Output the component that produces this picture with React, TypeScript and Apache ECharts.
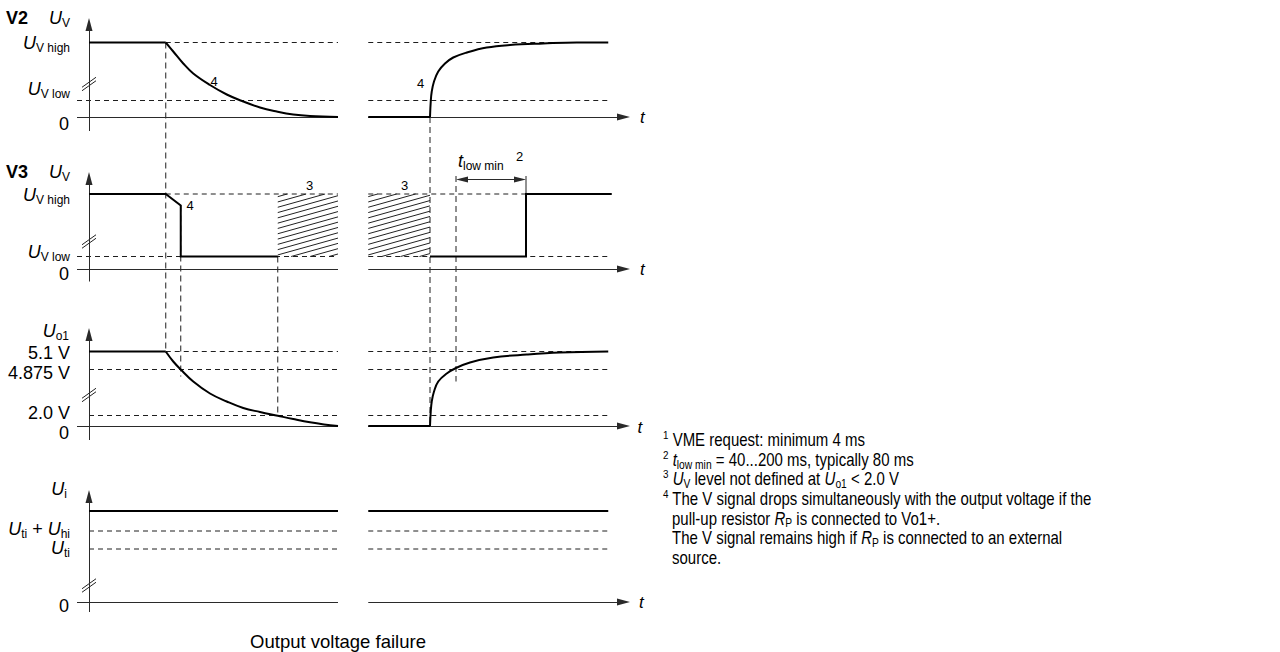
import React, { useEffect, useRef } from "react";
import * as echarts from "echarts";

type Pt = [number, number];

const FONT = '"Liberation Sans", Arial, Helvetica, sans-serif';

// ---------- time instants (diagram time units) ----------
const T_AXIS_START = -4.8;
const T_LEFT_END = 99.6;
const T_RIGHT_START = 111.7;
const T_RIGHT_END = 207.7;
const T_ARROW = 216.4;
const T_FAIL = 30.7;
const T_V3_DROP = 36.7;
const T_UO1_2V = 75.5;
const T_RECOVER = 136.4;
const T_UO1_4875 = 146.8;
const T_V3_RISE = 174.8;

// ---------- levels (diagram units above each panel's zero line) ----------
const V2_LEVELS = [14.9, 3.3]; // U_V high, U_V low
const V3_LEVELS = [15.0, 2.5]; // U_V high, U_V low
const UO1_LEVELS = [14.9, 11.3, 2.1]; // 5.1 V, 4.875 V, 2.0 V
const UI_LEVELS = [18.2, 14.2, 10.6]; // U_i, U_ti + U_hi, U_ti

// ---------- signals [t, level] ----------
const v2Flat: Pt[] = [[0, 14.9], [30.7, 14.9]];
const v2Fall: Pt[] = [[30.7, 14.9], [33.7, 13.1], [37.7, 10.7], [41.7, 8.7], [48.4, 6.4], [55.1, 4.5], [61.7, 3.1], [68.4, 1.9], [75.1, 1.1], [81.7, 0.5], [88.4, 0.2], [99.6, 0]];
const v2Low: Pt[] = [[111.7, 0], [136.4, 0]];
const v2Rise: Pt[] = [[136.4, 0], [136.7, 3.1], [137.1, 5.1], [138.0, 7.1], [139.7, 9.1], [142.4, 10.7], [145.7, 11.9], [151.1, 12.9], [159.1, 13.9], [168.4, 14.4], [181.7, 14.7], [195.1, 14.9], [207.7, 14.9]];

const v3Left: Pt[] = [[0, 15], [30.7, 15], [36.7, 12.7], [36.7, 2.5], [75.5, 2.5]];
const v3Right: Pt[] = [[136.4, 2.5], [174.8, 2.5], [174.8, 15], [209.1, 15]];

const uo1Flat: Pt[] = [[0, 14.9], [30.7, 14.9]];
const uo1Fall: Pt[] = [[30.7, 14.9], [33.7, 12.9], [36.7, 11.3], [41.7, 8.9], [48.4, 6.5], [55.1, 4.9], [61.7, 3.6], [68.4, 2.8], [75.5, 2.05], [81.7, 1.4], [88.4, 0.75], [94.0, 0.32], [99.6, 0]];
const uo1Low: Pt[] = [[111.7, 0], [136.4, 0]];
const uo1Rise: Pt[] = [[136.4, 0], [136.7, 2.9], [137.1, 4.9], [138.0, 6.9], [139.7, 8.9], [143.1, 10.5], [146.8, 11.6], [152.4, 12.7], [161.7, 13.7], [175.1, 14.3], [188.4, 14.7], [207.7, 14.9]];

const uiLeft: Pt[] = [[0, 18.2], [99.6, 18.2]];
const uiRight: Pt[] = [[111.7, 18.2], [207.7, 18.2]];

// undefined-level hatched zones of V3 [tStart, tEnd]
const hatchZones: Pt[] = [[75.5, 99.6], [111.7, 136.4]];

// ---------- layout (panel zero lines on the shared vertical scale) ----------
const BASE_V2 = 99;
const BASE_V3 = 68.6;
const BASE_UO1 = 37.2;
const BASE_UI = 2;
const Y_MAX = 118.8;

function App() {
  const ref = useRef<HTMLDivElement>(null);
  useEffect(() => {
    const chart = echarts.init(ref.current!, undefined, { renderer: "svg" });
    chart.setOption(buildOption() as any);
    return () => chart.dispose();
  }, []);
  return (
    <div
      ref={ref}
      style={{ position: "fixed", left: 0, top: 0, width: 1280, height: 652, background: "#fff" }}
    />
  );
}

function buildOption() {
  const series: any[] = [];
  const shift = (pts: Pt[], base: number) => pts.map(([t, v]) => [t, base + v]);

  const signal = (pts: Pt[], base: number, smooth = false) =>
    series.push({
      type: "line",
      data: shift(pts, base),
      symbol: "none",
      showSymbol: false,
      smooth: smooth ? 0.4 : false,
      lineStyle: { color: "#000", width: 2, cap: "butt", join: "miter" },
      silent: true,
      z: 6,
    });

  const dash = (a: Pt, b: Pt, dashPattern = [5, 4]) =>
    series.push({
      type: "line",
      data: [a, b],
      symbol: "none",
      lineStyle: { color: "#1e1e1e", width: 1, type: dashPattern },
      silent: true,
      z: 3,
    });

  const thin = (a: Pt, b: Pt) =>
    series.push({
      type: "line",
      data: [a, b],
      symbol: "none",
      lineStyle: { color: "#222", width: 1 },
      silent: true,
      z: 4,
    });

  // signals
  signal(v2Flat, BASE_V2);
  signal(v2Fall, BASE_V2, true);
  signal(v2Low, BASE_V2);
  signal(v2Rise, BASE_V2, true);
  signal(v3Left, BASE_V3);
  signal(v3Right, BASE_V3);
  signal(uo1Flat, BASE_UO1);
  signal(uo1Fall, BASE_UO1, true);
  signal(uo1Low, BASE_UO1);
  signal(uo1Rise, BASE_UO1, true);
  signal(uiLeft, BASE_UI);
  signal(uiRight, BASE_UI);

  // horizontal dashed reference levels
  const both = (base: number, level: number, tLeftStart: number) => {
    dash([tLeftStart, base + level], [T_LEFT_END, base + level]);
    dash([T_RIGHT_START, base + level], [T_RIGHT_END, base + level]);
  };
  both(BASE_V2, V2_LEVELS[0], T_FAIL);
  both(BASE_V2, V2_LEVELS[1], T_AXIS_START);
  both(BASE_V3, V3_LEVELS[0], T_FAIL);
  both(BASE_V3, V3_LEVELS[1], T_AXIS_START);
  both(BASE_UO1, UO1_LEVELS[0], T_FAIL);
  both(BASE_UO1, UO1_LEVELS[1], 0);
  both(BASE_UO1, UO1_LEVELS[2], 0);
  both(BASE_UI, UI_LEVELS[1], 0);
  both(BASE_UI, UI_LEVELS[2], 0);

  // vertical dashed connectors between panels
  const vd = [6, 4];
  dash([T_FAIL, BASE_V2 + V2_LEVELS[0]], [T_FAIL, BASE_UO1 + UO1_LEVELS[0]], vd);
  dash([T_V3_DROP, BASE_V3 + 12.7], [T_V3_DROP, BASE_UO1 + 9.9], vd);
  dash([T_UO1_2V, BASE_V3 + V3_LEVELS[1]], [T_UO1_2V, BASE_UO1 + UO1_LEVELS[2]], vd);
  dash([T_RECOVER, BASE_V2], [T_RECOVER, BASE_UO1], vd);
  dash([T_UO1_4875, BASE_V3 + 18.6], [T_UO1_4875, BASE_UO1 + 8.9], vd);
  // t_low min end tick
  thin([T_V3_RISE, BASE_V3 + 18.6], [T_V3_RISE, BASE_V3 + 15]);

  // axis break marks on the y axes
  const breaks: Pt[] = [[BASE_V2, 6.6], [BASE_V3, 5.5], [BASE_UO1, 6.2], [BASE_UI, 3.3]];
  breaks.forEach(([base, c]) => {
    [-0.35, 0.35].forEach((o) => thin([-2.8, base + c + o - 1.0], [2.8, base + c + o + 1.0]));
  });

  // hatched zones (custom series)
  const HATCH_SLOPE = 0.28;
  const HATCH_GAP = 5.3;
  series.push({
    type: "custom",
    silent: true,
    z: 2,
    data: hatchZones.map(([a, b]) => [a, b, BASE_V3 + V3_LEVELS[1], BASE_V3 + V3_LEVELS[0]]),
    encode: { x: [0, 1], y: [2, 3] },
    renderItem: (_p: any, api: any) => {
      const tl = api.coord([api.value(0), api.value(3)]);
      const br = api.coord([api.value(1), api.value(2)]);
      const left = tl[0], top = tl[1], right = br[0], bottom = br[1];
      const w = right - left;
      const children: any[] = [];
      for (let c = top + HATCH_GAP * 0.5; c < bottom + HATCH_SLOPE * w; c += HATCH_GAP) {
        const xa = Math.max(left, left + (c - bottom) / HATCH_SLOPE);
        const xb = Math.min(right, left + (c - top) / HATCH_SLOPE);
        if (xb - xa > 0.5) {
          children.push({
            type: "line",
            shape: { x1: xa, y1: c - HATCH_SLOPE * (xa - left), x2: xb, y2: c - HATCH_SLOPE * (xb - left) },
            style: { stroke: "#222", lineWidth: 1 },
          });
        }
      }
      return { type: "group", children };
    },
  });

  // axes with arrows (markLine)
  const ARROW = { symbol: "triangle", symbolSize: [7, 13] };
  const NONE = { symbol: "none" };
  const AX_T = 2.6; // half arrow length in t units
  const AX_Y = 1.3; // half arrow length in level units
  const axisLines: any[] = [];
  const panels: [number, number, number][] = [
    [BASE_V2, -2.8, 19.8],
    [BASE_V3, -2.5, 19.4],
    [BASE_UO1, -2.8, 19.6],
    [BASE_UI, -2.0, 22.4],
  ];
  panels.forEach(([base, yb, yt]) => {
    axisLines.push([{ coord: [0, base + yb], ...NONE }, { coord: [0, base + yt - AX_Y], ...ARROW }]);
    axisLines.push([{ coord: [T_AXIS_START, base], ...NONE }, { coord: [T_LEFT_END, base], ...NONE }]);
    axisLines.push([{ coord: [T_RIGHT_START, base], ...NONE }, { coord: [T_ARROW - AX_T, base], ...ARROW }]);
  });
  // t_low min double arrow
  axisLines.push([
    { coord: [T_UO1_4875 + 2.4, BASE_V3 + 17.9], symbol: "triangle", symbolSize: [6, 12] },
    { coord: [T_V3_RISE - 2.4, BASE_V3 + 17.9], symbol: "triangle", symbolSize: [6, 12] },
  ]);
  series.push({
    type: "line",
    data: [],
    silent: true,
    markLine: {
      silent: true,
      symbol: ["none", "none"],
      label: { show: false },
      emphasis: { disabled: true },
      lineStyle: { color: "#2a2a2a", width: 1, type: "solid" },
      itemStyle: { color: "#000" },
      data: axisLines,
    },
  });

  // ---------- texts ----------
  const RICH: any = {
    u: { fontSize: 18, fontStyle: "italic", fontFamily: FONT, lineHeight: 22, fill: "#000" },
    s: { fontSize: 12, fontFamily: FONT, lineHeight: 14, verticalAlign: "bottom", fill: "#000" },
    n: { fontSize: 18, fontFamily: FONT, lineHeight: 22, fill: "#000" },
    b: { fontSize: 18, fontWeight: "bold", fontFamily: FONT, lineHeight: 22, fill: "#000" },
    t: { fontSize: 17, fontStyle: "italic", fontFamily: FONT, lineHeight: 22, fill: "#000" },
    a: { fontSize: 13, fontFamily: FONT, lineHeight: 16, fill: "#000" },
    f: { fontSize: 18.5, fontFamily: FONT, lineHeight: 22, fill: "#000" },
  };
  const NOTE: any = {
    n: { fontSize: 17.5, fontFamily: FONT, lineHeight: 22, fill: "#000" },
    i: { fontSize: 17.5, fontStyle: "italic", fontFamily: FONT, lineHeight: 22, fill: "#000" },
    s: { fontSize: 12, fontFamily: FONT, lineHeight: 13, verticalAlign: "bottom", fill: "#000" },
    p: { fontSize: 11.5, fontFamily: FONT, lineHeight: 11, verticalAlign: "top", fill: "#000" },
  };
  const txt = (x: number, y: number, text: string, align = "left", rich = RICH, scaleX = 1) => ({
    type: "text",
    x,
    y,
    scaleX,
    silent: true,
    style: { text, rich, align, verticalAlign: "middle", fontFamily: FONT, fontSize: 16, fill: "#000" },
  });
  const note = (x: number, y: number, text: string) => txt(x, y, text, "left", NOTE, 0.857);

  const graphics: any[] = [
    // V2
    txt(6, 18, "{b|V2}"),
    txt(70, 18, "{u|U}{s|V}", "right"),
    txt(70, 43, "{u|U}{s|V high}", "right"),
    txt(70, 88.5, "{u|U}{s|V low}", "right"),
    txt(69, 124, "{n|0}", "right"),
    // V3
    txt(6, 172, "{b|V3}"),
    txt(70, 172, "{u|U}{s|V}", "right"),
    txt(70, 194.5, "{u|U}{s|V high}", "right"),
    txt(70, 252, "{u|U}{s|V low}", "right"),
    txt(69, 274, "{n|0}", "right"),
    // Uo1
    txt(69, 330.5, "{u|U}{s|o1}", "right"),
    txt(70, 353, "{n|5.1 V}", "right"),
    txt(70, 372.5, "{n|4.875 V}", "right"),
    txt(70, 412.5, "{n|2.0 V}", "right"),
    txt(69, 433, "{n|0}", "right"),
    // Ui
    txt(67, 488.5, "{u|U}{s|i}", "right"),
    txt(70, 529, "{u|U}{s|ti}{n| + }{u|U}{s|hi}", "right"),
    txt(70, 547.5, "{u|U}{s|ti}", "right"),
    txt(69, 606, "{n|0}", "right"),
    // t axis labels
    txt(640, 117, "{t|t}"),
    txt(640, 269, "{t|t}"),
    txt(637.5, 427, "{t|t}"),
    txt(639, 602, "{t|t}"),
    // note references
    txt(214, 81, "{a|4}", "center"),
    txt(420.7, 83, "{a|4}", "center"),
    txt(190, 205, "{a|4}", "center"),
    txt(309.7, 185.5, "{a|3}", "center"),
    txt(404.7, 185.5, "{a|3}", "center"),
    // t_low min
    txt(458, 161, "{u|t}{s|low min}"),
    txt(516, 156.5, "{a|2}"),
    // footer
    txt(338, 641, "{f|Output voltage failure}", "center"),
    // footnotes
    note(663, 439.8, "{p|1}{n| VME request: minimum 4 ms}"),
    note(663, 459.4, "{p|2}{n| }{i|t}{s|low min}{n| = 40...200 ms, typically 80 ms}"),
    note(663, 479, "{p|3}{n| }{i|U}{s|V}{n| level not defined at }{i|U}{s|o1}{n| < 2.0 V}"),
    note(663, 498.6, "{p|4}{n| The V signal drops simultaneously with the output voltage if the}"),
    note(672, 518.2, "{n|pull-up resistor }{i|R}{s|P}{n| is connected to Vo1+.}"),
    note(672, 537.8, "{n|The V signal remains high if }{i|R}{s|P}{n| is connected to an external}"),
    note(672, 557.4, "{n|source.}"),
  ];

  return {
    animation: false,
    backgroundColor: "#fff",
    grid: { left: 77, right: 650, top: 18, bottom: 40, containLabel: false, outerBoundsMode: "none" },
    xAxis: { type: "value", min: T_AXIS_START, max: T_ARROW, show: false },
    yAxis: { type: "value", min: 0, max: Y_MAX, show: false },
    series,
    graphic: { elements: graphics },
  };
}

export default App;
